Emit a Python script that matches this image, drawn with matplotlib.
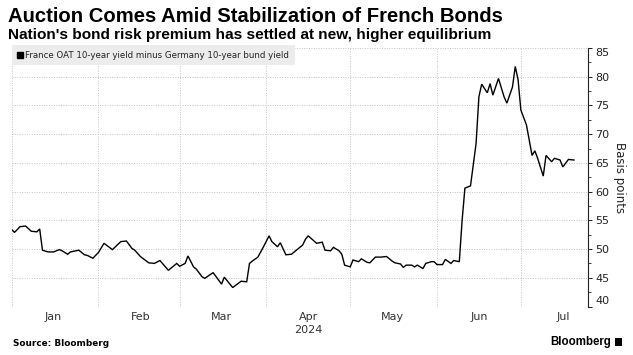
import matplotlib
matplotlib.use("Agg")
import matplotlib.pyplot as plt
import matplotlib.dates as mdates
from matplotlib.ticker import MultipleLocator, NullFormatter
from matplotlib.lines import Line2D
from matplotlib.patches import Rectangle
import pandas as pd

# ---- data ----
dates = [
    "2024-01-01", "2024-01-02", "2024-01-04", "2024-01-06", "2024-01-08", "2024-01-10",
    "2024-01-11", "2024-01-12", "2024-01-14", "2024-01-16", "2024-01-18", "2024-01-19",
    "2024-01-21", "2024-01-22", "2024-01-25", "2024-01-27", "2024-01-28", "2024-01-30",
    "2024-02-01", "2024-02-03", "2024-02-06", "2024-02-09", "2024-02-11", "2024-02-13",
    "2024-02-14", "2024-02-16", "2024-02-19", "2024-02-21", "2024-02-23", "2024-02-26",
    "2024-02-29", "2024-03-01", "2024-03-03", "2024-03-04", "2024-03-06", "2024-03-07",
    "2024-03-09", "2024-03-10", "2024-03-13", "2024-03-16", "2024-03-17", "2024-03-20",
    "2024-03-23", "2024-03-25", "2024-03-26", "2024-03-27", "2024-03-29", "2024-03-31",
    "2024-04-02", "2024-04-03", "2024-04-05", "2024-04-06", "2024-04-08", "2024-04-10",
    "2024-04-14", "2024-04-15", "2024-04-16", "2024-04-19", "2024-04-21", "2024-04-22",
    "2024-04-24", "2024-04-25", "2024-04-27", "2024-04-28", "2024-04-29", "2024-05-01",
    "2024-05-02", "2024-05-04", "2024-05-05", "2024-05-07", "2024-05-08", "2024-05-10",
    "2024-05-12", "2024-05-14", "2024-05-16", "2024-05-17", "2024-05-19", "2024-05-20",
    "2024-05-21", "2024-05-23", "2024-05-24", "2024-05-25", "2024-05-27", "2024-05-28",
    "2024-05-30", "2024-05-31", "2024-06-01", "2024-06-03", "2024-06-04", "2024-06-06",
    "2024-06-07", "2024-06-09", "2024-06-10", "2024-06-11", "2024-06-13", "2024-06-15",
    "2024-06-16", "2024-06-17", "2024-06-19", "2024-06-20", "2024-06-21", "2024-06-23",
    "2024-06-25", "2024-06-26", "2024-06-28", "2024-06-29", "2024-06-30", "2024-07-01",
    "2024-07-03", "2024-07-05", "2024-07-06", "2024-07-07", "2024-07-09", "2024-07-10",
    "2024-07-12", "2024-07-13", "2024-07-15", "2024-07-16", "2024-07-18", "2024-07-20",
]
spread_bp = [
    53.4, 52.9, 53.9, 54.0, 53.1, 53.0,
    53.5, 49.8, 49.5, 49.5, 49.9, 49.7,
    49.1, 49.5, 49.8, 49.0, 48.9, 48.4,
    49.4, 51.0, 49.9, 51.3, 51.4, 50.1,
    49.8, 48.7, 47.6, 47.5, 48.0, 46.3,
    47.5, 47.0, 47.5, 48.8, 46.9, 46.5,
    45.2, 44.9, 45.9, 43.9, 45.1, 43.3,
    44.4, 44.3, 47.5, 47.9, 48.6, 50.4,
    52.3, 51.3, 50.4, 51.1, 49.0, 49.1,
    50.7, 51.7, 52.3, 51.0, 51.2, 49.8,
    49.7, 50.3, 49.7, 49.1, 47.2, 46.9,
    48.1, 47.8, 48.3, 47.7, 47.6, 48.6,
    48.6, 48.7, 47.9, 47.6, 47.4, 46.8,
    47.2, 47.2, 46.9, 47.2, 46.6, 47.5,
    47.8, 47.8, 47.3, 47.3, 48.2, 47.5,
    48.0, 47.8, 55.0, 60.6, 61.0, 68.4,
    76.5, 78.7, 77.2, 78.8, 76.8, 79.7,
    76.5, 75.4, 78.2, 81.8, 79.5, 74.2,
    71.6, 66.3, 67.1, 65.8, 62.7, 66.3,
    65.2, 65.8, 65.5, 64.3, 65.6, 65.5,
]
series_label = "France OAT 10-year yield minus Germany 10-year bund yield"
y_ticks = [40, 45, 50, 55, 60, 65, 70, 75, 80, 85]
title = "Auction Comes Amid Stabilization of French Bonds"
subtitle = "Nation's bond risk premium has settled at new, higher equilibrium"
source = "Source: Bloomberg"

# ---- figure ----
W, H = 633, 355
fig = plt.figure(figsize=(W / 100, H / 100), dpi=100)
fig.patch.set_facecolor("white")

L, R, T, B = 11.7, 588, 48, 306.5
ax = fig.add_axes([L / W, 1 - B / H, (R - L) / W, (B - T) / H])

x = pd.to_datetime(dates)
ax.plot(x, spread_bp, color="black", lw=1.0, solid_joinstyle="miter", zorder=3)

ax.set_xlim(pd.Timestamp("2024-01-01"), pd.Timestamp("2024-07-25"))
ax.set_ylim(40, 85)

# y axis on the right
ax.yaxis.tick_right()
ax.yaxis.set_label_position("right")
ax.set_yticks(y_ticks)
ax.yaxis.set_minor_locator(MultipleLocator(2.5))
ax.tick_params(axis="y", which="major", length=3, width=0.7, pad=2,
               labelsize=8, colors="#222222", direction="out")
ax.tick_params(axis="y", which="minor", length=2, width=0.6,
               colors="#222222", direction="out")
labels = ax.get_yticklabels()
labels[-1].set_va("top")
labels[0].set_va("bottom")
ax.set_ylabel("Basis points", rotation=270, labelpad=12, fontsize=8.5, color="#222222")

# x axis: month gridlines, labels mid-month
ax.xaxis.set_major_locator(mdates.MonthLocator())
ax.xaxis.set_major_formatter(NullFormatter())
ax.xaxis.set_minor_locator(mdates.MonthLocator(bymonthday=16))
ax.xaxis.set_minor_formatter(mdates.DateFormatter("%b"))
ax.tick_params(axis="x", which="both", length=0, pad=4, labelsize=8, colors="#333333")

ax.grid(True, which="major", axis="both", ls=(0, (1, 1.5)), color="#c4c4c4", lw=0.7, zorder=0)

for s in ("left", "top", "bottom"):
    ax.spines[s].set_visible(False)
ax.spines["right"].set_color("#222222")
ax.spines["right"].set_linewidth(0.8)

# year label under April
ax.text(pd.Timestamp("2024-04-16"), -0.092, "2024", transform=ax.get_xaxis_transform(),
        ha="center", va="center", fontsize=8, color="#333333")

# legend box
handle = Line2D([], [], marker="s", color="black", ls="none", markersize=4.5)
leg = ax.legend([handle], [series_label], loc="upper left",
                bbox_to_anchor=(0, 1 + 3 / (B - T)), borderaxespad=0,
                frameon=True, fancybox=False, framealpha=1,
                facecolor="#ececec", edgecolor="none",
                fontsize=6.2, handlelength=0.6, handletextpad=0.3,
                borderpad=0.65, labelcolor="#222222")
leg.set_zorder(5)

# titles
fig.text(8 / W, 1 - 16 / H, title, fontsize=14.6, fontweight="bold",
         family="Liberation Sans", va="center", ha="left", color="black")
fig.text(8 / W, 1 - 35 / H, subtitle, fontsize=11.1, fontweight="bold",
         family="Liberation Sans", va="center", ha="left", color="black")

# footer
fig.text(13 / W, 1 - 343 / H, source, fontsize=6.4, fontweight="bold",
         va="center", ha="left", color="black")
fig.text(611 / W, 1 - 342 / H, "Bloomberg", fontsize=8.3, fontweight="semibold",
         family="Liberation Sans", va="center", ha="right", color="black")
fig.patches.append(Rectangle((615 / W, 1 - 346 / H), 7 / W, 8 / H,
                             transform=fig.transFigure, facecolor="black",
                             edgecolor="none"))

fig.savefig("out.png", dpi=100)
